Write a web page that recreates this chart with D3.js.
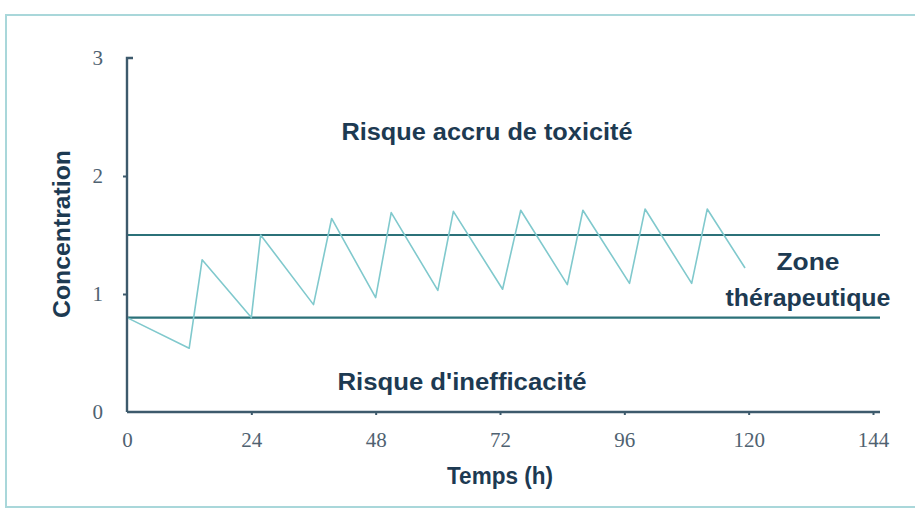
<!DOCTYPE html>
<html>
<head>
<meta charset="utf-8">
<script src="https://cdn.jsdelivr.net/npm/d3@7"></script>
<style>
  html, body { margin: 0; padding: 0; background: #ffffff; }
  svg { display: block; }
  .ttl { font-family: "Liberation Sans", Arial, sans-serif; font-weight: bold; }
  .tck { font-family: "Liberation Serif", "DejaVu Serif", serif; }
</style>
</head>
<body>
<svg id="chart" width="915" height="520"></svg>
<script>
// Time (h) and plasma concentration for repeated dosing every 12 h
const timeH = [0, 0, 12, 14.5, 24, 25.8, 36, 39.5, 48, 51, 60, 63, 72.5, 76, 85, 88, 97, 100, 109, 112, 119.3];
const concentration = [0, 0.8, 0.54, 1.29, 0.8, 1.5, 0.91, 1.64, 0.97, 1.69, 1.03, 1.7, 1.04, 1.71, 1.08, 1.71, 1.09, 1.72, 1.09, 1.72, 1.22];

// Therapeutic window bounds
const upperBound = 1.5;
const lowerBound = 0.8;

const xTicks = [0, 24, 48, 72, 96, 120, 144];
const yTicks = [0, 1, 2, 3];

const xTitle = "Temps (h)";
const yTitle = "Concentration";
const toxicLabel = "Risque accru de toxicité";
const ineffectiveLabel = "Risque d'inefficacité";
const zoneLabel = ["Zone", "thérapeutique"];

const svg = d3.select("#chart");
const textColor = "#1d3a52";
const axisColor = "#3d5a6c";
const boundColor = "#2b7179";
const curveColor = "#80c9cd";

// Outer frame
svg.append("rect")
  .attr("x", 6).attr("y", 15)
  .attr("width", 930).attr("height", 492)
  .attr("fill", "none")
  .attr("stroke", "#a9d7da")
  .attr("stroke-width", 2);

const x = d3.scaleLinear().domain([0, 144]).range([127, 873]);
const y = d3.scaleLinear().domain([0, 3]).range([412, 58]);
const xEnd = 880;

// Reference lines for the therapeutic window
[upperBound, lowerBound].forEach(v => {
  svg.append("line")
    .attr("x1", x(0)).attr("x2", xEnd)
    .attr("y1", y(v)).attr("y2", y(v))
    .attr("stroke", boundColor)
    .attr("stroke-width", 2.2);
});

// Concentration curve
const pts = timeH.map((t, i) => [t, concentration[i]]);
svg.append("path")
  .datum(pts)
  .attr("fill", "none")
  .attr("stroke", curveColor)
  .attr("stroke-width", 1.6)
  .attr("stroke-linejoin", "round")
  .attr("d", d3.line().x(d => x(d[0])).y(d => y(d[1])));

// Axes
const xAxis = d3.axisBottom(x).tickValues(xTicks).tickSize(3).tickPadding(20).tickFormat(d3.format("d"));
const yAxis = d3.axisLeft(y).tickValues(yTicks).tickSize(4).tickPadding(20).tickFormat(d3.format("d"));

const gx = svg.append("g").attr("transform", `translate(0,${y(0)})`).call(xAxis);
gx.select(".domain").attr("d", `M${x(0)},0H${xEnd}`);
const gy = svg.append("g").attr("transform", `translate(${x(0)},0)`).call(yAxis);
gy.select(".domain").attr("d", `M6,${y(3)}H0V${y(0)}`);

[gx, gy].forEach(g => {
  g.attr("font-family", null).attr("font-size", null);
  g.select(".domain").attr("stroke", axisColor).attr("stroke-width", 2.4).attr("fill", "none");
  g.selectAll(".tick line").attr("stroke", axisColor).attr("stroke-width", 2);
  g.selectAll(".tick text")
    .attr("class", "tck")
    .attr("fill", "#4f6271")
    .style("font-size", "21px");
});
gx.selectAll(".tick text").attr("dy", "0.55em");
gy.selectAll(".tick").filter(d => d === 0 || d === 3).select("line").remove();
gx.selectAll(".tick").filter(d => d === 0).select("line").remove();

// Bold annotation text, fitted to a set width
function label(txt, cx, cy, width, rotate) {
  const t = svg.append("text")
    .attr("class", "ttl")
    .attr("text-anchor", "middle")
    .attr("fill", textColor)
    .style("font-size", "23px")
    .attr("textLength", width)
    .attr("lengthAdjust", "spacingAndGlyphs")
    .text(txt);
  if (rotate) t.attr("transform", `translate(${cx},${cy}) rotate(-90)`);
  else t.attr("x", cx).attr("y", cy);
}

label(xTitle, 500, 484, 106);
label(yTitle, 70, 234, 168, true);
label(toxicLabel, 487, 140, 291);
label(ineffectiveLabel, 462, 390, 249);
label(zoneLabel[0], 808, 270, 63);
label(zoneLabel[1], 808, 306, 165);
</script>
</body>
</html>
